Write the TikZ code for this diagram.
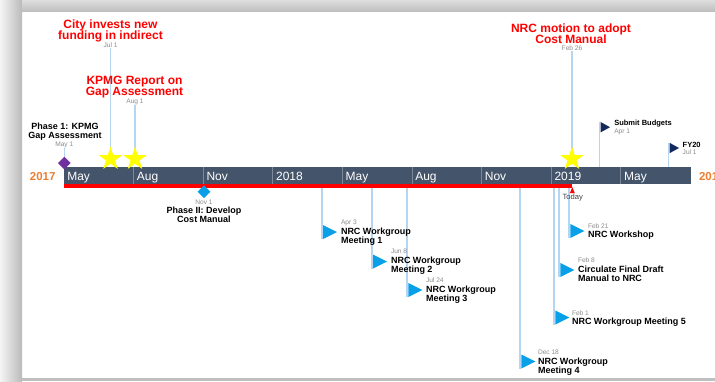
\documentclass[tikz,border=0pt]{standalone}
\usepackage{fontspec}
\setmainfont{Liberation Sans}
\usetikzlibrary{shapes.geometric,calc}
\pgfdeclarelayer{bg}
\pgfsetlayers{bg,main}
\definecolor{barc}{HTML}{44546A}
\definecolor{redc}{HTML}{FF0000}
\definecolor{orc}{HTML}{ED7D31}
\definecolor{connc}{HTML}{B6D5F1}
\definecolor{flagc}{HTML}{0AA0E8}
\definecolor{navyc}{HTML}{142A5E}
\definecolor{purc}{HTML}{7030A0}
\definecolor{starc}{HTML}{FFFF00}
\definecolor{datec}{HTML}{8C8C8C}
\definecolor{divc}{HTML}{7D8899}
\definecolor{todayc}{HTML}{404040}
\newcommand\myfs[2]{\fontsize{#1}{#2}\selectfont\lineskiplimit=-50pt\relax}
\tikzset{
  txt/.style={inner sep=0pt, outer sep=0pt},
  redtitle/.style={txt, align=center, anchor=north, text=redc, font=\myfs{12}{10.8}\bfseries},
  datelbl/.style={txt, text=datec, font=\myfs{6.6}{7}},
  blacktitle/.style={txt, text=black, font=\myfs{9}{9}\bfseries},
  smalltitle/.style={txt, text=black, font=\myfs{7.5}{8}\bfseries},
  conn/.style={draw=connc, line width=1.6pt},
  flagb/.style={isosceles triangle, isosceles triangle stretches, fill=flagc, inner sep=0pt, outer sep=0pt, minimum width=14pt, minimum height=14pt, anchor=west},
  flagn/.style={isosceles triangle, isosceles triangle stretches, fill=navyc, inner sep=0pt, outer sep=0pt, minimum width=10.5pt, minimum height=9.5pt, anchor=west},
  starm/.style={star, star points=5, star point ratio=2.618, fill=starc, inner sep=0pt, minimum size=24.6pt},
  diam/.style={diamond, inner sep=0pt, outer sep=0pt, minimum width=12.6pt, minimum height=12.6pt},
  monthlbl/.style={txt, anchor=base west, text=white, font=\myfs{12}{12}},
  yearlbl/.style={txt, text=orc, font=\myfs{11.5}{12}\bfseries},
}
\begin{document}
\begin{tikzpicture}[x=1pt,y=-1pt]
\useasboundingbox (0,0) rectangle (715,381);
\clip (0,0) rectangle (715,381);
% frame
\begin{pgfonlayer}{bg}
\fill[white] (0,0) rectangle (715,381);
\shade[left color=black!4, right color=black!27] (0,0) rectangle (22,381);
\shade[top color=black!13, bottom color=black!25] (22,0) rectangle (715,11);
\fill[black!25] (22,378) rectangle (715,381);
\end{pgfonlayer}

% bar
\node[fill=barc, inner sep=0pt, outer sep=0pt, minimum width=627pt, minimum height=17.5pt, anchor=north west] (bar) at (64,166.7) {};
\node[fill=redc, inner sep=0pt, outer sep=0pt, minimum width=508pt, minimum height=4pt, anchor=north west] (prog) at (bar.south west) {};
\foreach \k in {1,...,8}
  \draw[divc, line width=0.7pt] ($(bar.north west)+(69.6*\k,0)$) -- ($(bar.south west)+(69.6*\k,0)$);
\foreach \k/\m in {0/May,1/Aug,2/Nov,3/2018,4/May,5/Aug,6/Nov,7/2019,8/May}
  \node[monthlbl] (mon\k) at ($(bar.south west)+(69.6*\k+3.3,-3.5)$) {\m};
\node[yearlbl, anchor=base east] (ystart) at (55.5,180.7) {2017};
\node[yearlbl, anchor=base west] (yend) at (699,180.7) {2019};

% stars and diamonds
\node[starm] (s1) at (110.5,159) {};
\node[starm] (s2) at (135,159) {};
\node[starm] (s3) at (572,159) {};
\node[diam, fill=purc] (d1) at (64.3,163) {};
\node[diam, fill=flagc] (d2) at (204,191.7) {};

% top labels
\node[redtitle] (t1) at (110.5,20) {City invests new\\funding in indirect};
\node[datelbl, anchor=base] (t1d) at (110.5,47.7) {Jul 1};
\node[redtitle] (t2) at (134.5,76.5) {KPMG Report on\\Gap Assessment};
\node[datelbl, anchor=base] (t2d) at (135,103.4) {Aug 1};
\node[redtitle] (t3) at (571,24) {NRC motion to adopt\\Cost Manual};
\node[datelbl, anchor=base] (t3d) at (572,50.7) {Feb 26};
\node[blacktitle, align=center, anchor=north] (p1) at (65,123) {Phase 1: KPMG\\Gap Assessment};
\node[datelbl, anchor=base] (p1d) at (64.3,146.4) {May 1};
\node[datelbl, anchor=base] (p2d) at (204,204.1) {Nov 1};
\node[blacktitle, align=center, anchor=north] (p2) at (204,207) {Phase II: Develop\\Cost Manual};

% navy flags
\node[flagn] (sb) at (600.5,127.2) {};
\node[smalltitle, anchor=base west] (sbt) at (614.3,125.9) {Submit Budgets};
\node[datelbl, anchor=base west] (sbd) at (614.3,133.2) {Apr 1};
\node[flagn] (fy) at (669.5,148) {};
\node[smalltitle, anchor=base west] (fyt) at (682.7,147.4) {FY20};
\node[datelbl, anchor=base west] (fyd) at (682.7,154.7) {Jul 1};

% blue flags
\node[flagb] (f1) at (323,232) {};
\node[datelbl, anchor=base west] (f1d) at (341,224.4) {Apr 3};
\node[blacktitle, align=left, anchor=north west] (f1t) at (341,227.6) {NRC Workgroup\\Meeting 1};
\node[flagb] (f2) at (373,261.5) {};
\node[datelbl, anchor=base west] (f2d) at (391,253.4) {Jun 8};
\node[blacktitle, align=left, anchor=north west] (f2t) at (391,256.6) {NRC Workgroup\\Meeting 2};
\node[flagb] (f3) at (408.3,290) {};
\node[datelbl, anchor=base west] (f3d) at (426,282.4) {Jul 24};
\node[blacktitle, align=left, anchor=north west] (f3t) at (426,285.6) {NRC Workgroup\\Meeting 3};
\node[flagb] (f4) at (521.3,361.5) {};
\node[datelbl, anchor=base west] (f4d) at (538,354.4) {Dec 18};
\node[blacktitle, align=left, anchor=north west] (f4t) at (538,357.6) {NRC Workgroup\\Meeting 4};
\node[flagb] (f5) at (555.3,317.5) {};
\node[datelbl, anchor=base west] (f5d) at (572,315.4) {Feb 1};
\node[blacktitle, align=left, anchor=north west] (f5t) at (572,318.1) {NRC Workgroup Meeting 5};
\node[flagb] (f6) at (560.3,270) {};
\node[datelbl, anchor=base west] (f6d) at (578,262.4) {Feb 8};
\node[blacktitle, align=left, anchor=north west] (f6t) at (578,265.6) {Circulate Final Draft\\Manual to NRC};
\node[flagb] (f7) at (570.3,231) {};
\node[datelbl, anchor=base west] (f7d) at (588,228.4) {Feb 21};
\node[blacktitle, align=left, anchor=north west] (f7t) at (588,230.6) {NRC Workshop};

% today
\node[isosceles triangle, isosceles triangle stretches, shape border rotate=90, fill=redc, inner sep=0pt, minimum width=5pt, minimum height=6pt] (today) at (572.3,191.5) {};
\node[txt, anchor=base, text=todayc, font=\myfs{7.6}{8}] (todayt) at (572.8,199.7) {Today};

% connectors
\begin{pgfonlayer}{bg}
\draw[conn] (t1d.south) -- (t1d.south |- s1.center);
\draw[conn] (t2d.south) -- (t2d.south |- s2.center);
\draw[conn] (t3d.south) -- (t3d.south |- s3.center);
\draw[conn] (p1d.south) -- (p1d.south |- d1.center);
\draw[conn] ($(sb.west)+(-1.2,-4.75)$) -- ($(sb.west |- bar.north)+(-1.2,0)$);
\draw[conn] ($(fy.west)+(-1.2,-4.75)$) -- ($(fy.west |- bar.north)+(-1.2,0)$);
\foreach \f in {f1,f2,f3,f4,f5,f6,f7}
  \draw[conn] ($(\f.west |- prog.south)+(-1.2,0)$) -- ($(\f.west)+(-1.2,7)$);
\end{pgfonlayer}
\end{tikzpicture}
\end{document}
